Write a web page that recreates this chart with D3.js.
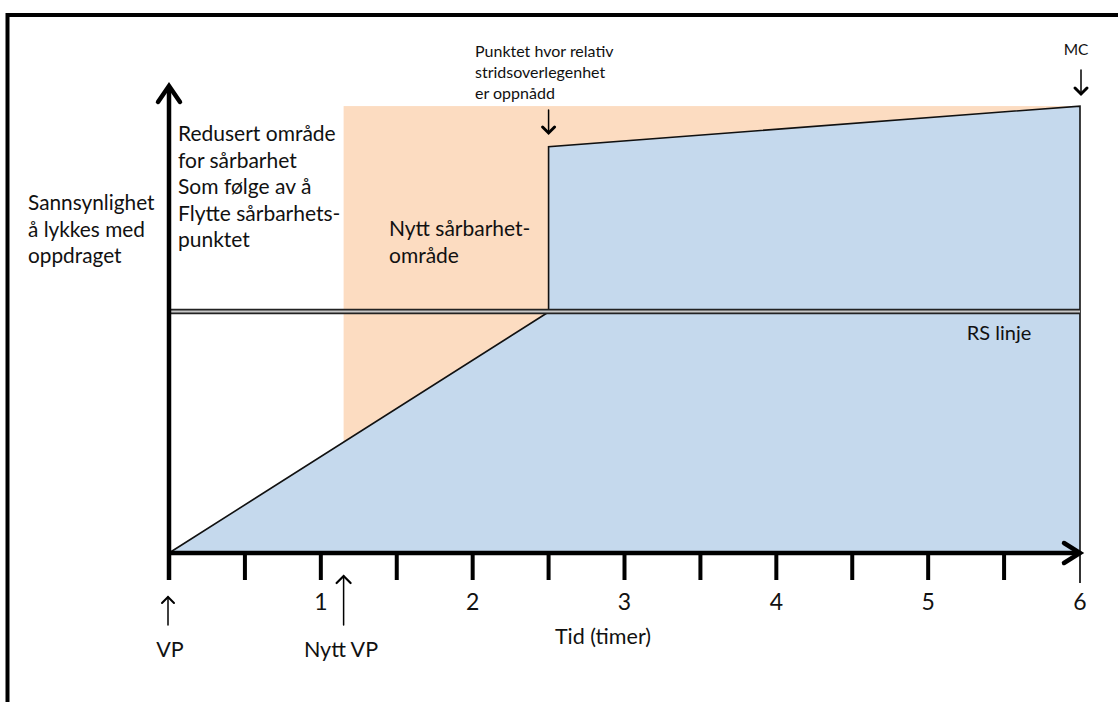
<!DOCTYPE html>
<html><head><meta charset="utf-8">
<script src="https://cdn.jsdelivr.net/npm/d3@7"></script>
<style>
html,body{margin:0;padding:0;background:#fff;}
svg{display:block;}
text{font-family:Lato, "Open Sans", sans-serif; fill:#111;}
</style></head>
<body><svg id="c" width="1118" height="702"></svg>
<script>
// ---- data ----
const majorTicks = [0, 1, 2, 3, 4, 5, 6];
const minorTicks = [0.5, 1.5, 2.5, 3.5, 4.5, 5.5];
const tickLabels = ["1", "2", "3", "4", "5", "6"];
const tickLabelValues = [1, 2, 3, 4, 5, 6];
const successTime = [0, 2.5, 2.5, 6];
const successProb = [0, 51.6, 87.0, 95.7];
const rsLevel = 51.6;
const newVpTime = 1.15;
const zoneTop = 95.7;
const yLabelLines = ["Sannsynlighet", "å lykkes med", "oppdraget"];
const reducedLines = ["Redusert område", "for sårbarhet", "Som følge av å", "Flytte sårbarhets-", "punktet"];
const newZoneLines = ["Nytt sårbarhet-", "område"];
const superiorityLines = ["Punktet hvor relativ", "stridsoverlegenhet", "er oppnådd"];

const svg = d3.select("#c");
const x = d3.scaleLinear().domain([0, 6]).range([169, 1080]);
const y = d3.scaleLinear().domain([0, 100]).range([553, 86]);

// frame
svg.append("rect").attr("x", 7.5).attr("y", 15).attr("width", 1200).attr("height", 800)
  .attr("fill", "none").attr("stroke", "#000").attr("stroke-width", 4);

// peach zone
svg.append("rect")
  .attr("x", x(newVpTime)).attr("y", y(zoneTop))
  .attr("width", x(6) - x(newVpTime)).attr("height", y(0) - y(zoneTop))
  .attr("fill", "#fcdcc1");

// blue area
const pts = successTime.map((t, i) => [t, successProb[i]]);
const area = d3.area().x(d => x(d[0])).y0(y(0)).y1(d => y(d[1]));
svg.append("path").attr("d", area(pts)).attr("fill", "#c5d9ed");
const line = d3.line().x(d => x(d[0])).y(d => y(d[1]));
svg.append("path").attr("d", line(pts.concat([[6, 0]])))
  .attr("fill", "none").attr("stroke", "#111").attr("stroke-width", 1.6).attr("stroke-linejoin", "miter");

// RS line (double)
svg.append("line").attr("x1", x(0)).attr("x2", x(6)).attr("y1", y(rsLevel) - 0.5).attr("y2", y(rsLevel) - 0.5)
  .attr("stroke", "#222").attr("stroke-width", 5.5);
svg.append("line").attr("x1", x(0)).attr("x2", x(6)).attr("y1", y(rsLevel) - 0.5).attr("y2", y(rsLevel) - 0.5)
  .attr("stroke", "#c8c8c8").attr("stroke-width", 2);

// axes
const ax = svg.append("g").attr("stroke", "#000").attr("stroke-linecap", "butt");
ax.append("line").attr("x1", x(0)).attr("x2", x(6)).attr("y1", y(0)).attr("y2", y(0)).attr("stroke-width", 4.5);
ax.append("line").attr("x1", x(0)).attr("x2", x(0)).attr("y1", y(0) + 27).attr("y2", y(100) + 2).attr("stroke-width", 4.5);
ax.selectAll(".mt").data(majorTicks.slice(1, 6).concat(minorTicks)).join("line")
  .attr("x1", d => x(d)).attr("x2", d => x(d)).attr("y1", y(0)).attr("y2", y(0) + 27).attr("stroke-width", 4);
ax.append("line").attr("x1", x(6)).attr("x2", x(6)).attr("y1", y(0)).attr("y2", y(0) + 30).attr("stroke-width", 1.6);
// arrowheads
ax.append("path").attr("d", `M${x(0) - 11},${y(100) + 16} L${x(0)},${y(100)} L${x(0) + 11},${y(100) + 16}`)
  .attr("fill", "none").attr("stroke-width", 4.5).attr("stroke-linejoin", "miter").attr("stroke-linecap", "round");
ax.append("path").attr("d", `M${x(6) - 16},${y(0) - 10} L${x(6)},${y(0)} L${x(6) - 16},${y(0) + 10}`)
  .attr("fill", "none").attr("stroke-width", 4.5).attr("stroke-linejoin", "miter").attr("stroke-linecap", "round");

// tick labels
svg.selectAll(".tl").data(tickLabelValues).join("text")
  .attr("x", d => x(d)).attr("y", 610).attr("text-anchor", "middle")
  .style("font-size", "23px").text((d, i) => tickLabels[i]);

// x title
svg.append("text").attr("x", 603).attr("y", 644).attr("text-anchor", "middle").style("font-size", "21.5px").text("Tid (timer)");

// multi-line texts
function lines(arr, x0, y0, lh, fs, anchor) {
  const t = svg.append("text").attr("x", x0).attr("y", y0).style("font-size", fs + "px").attr("text-anchor", anchor || "start");
  arr.forEach((s, i) => t.append("tspan").attr("x", x0).attr("y", y0 + i * lh).text(s));
}
lines(yLabelLines, 28, 210, 26.5, 20.8);
lines(reducedLines, 178, 141, 26.5, 21);
lines(newZoneLines, 389, 236, 26.5, 21);
lines(superiorityLines, 475, 57, 21, 16);
svg.append("text").attr("x", 1076).attr("y", 55).attr("text-anchor", "middle").style("font-size", "15.5px").text("MC");
svg.append("text").attr("x", 999).attr("y", 340).attr("text-anchor", "middle").style("font-size", "20px").text("RS linje");
svg.append("text").attr("x", 170).attr("y", 657).attr("text-anchor", "middle").style("font-size", "21.5px").text("VP");
svg.append("text").attr("x", 341).attr("y", 657).attr("text-anchor", "middle").style("font-size", "21.5px").text("Nytt VP");

// pointer arrows
function arrow(xp, y1, y2, w, hs) {
  const g = svg.append("g").attr("stroke", "#000").attr("fill", "none").attr("stroke-linecap", "round");
  g.append("line").attr("x1", xp).attr("x2", xp).attr("y1", y1).attr("y2", y2).attr("stroke-width", 1.5);
  const d = y2 > y1 ? -1 : 1;
  g.append("path").attr("d", `M${xp - hs},${y2 + d * hs} L${xp},${y2} L${xp + hs},${y2 + d * hs}`).attr("stroke-width", w);
}
arrow(x(2.5), 110, 133, 3, 6);
arrow(1081, 70, 94, 3, 6);
arrow(x(0) - 1, 625, 597, 2, 6);
arrow(x(newVpTime), 625, 576, 2.2, 7);
</script></body></html>
